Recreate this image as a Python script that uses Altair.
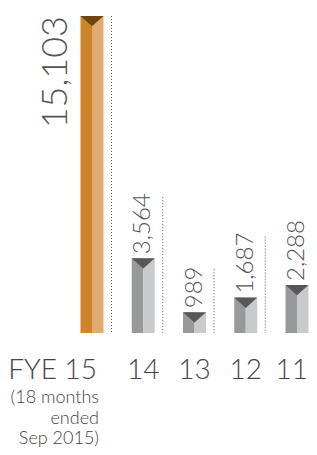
import altair as alt
import pandas as pd

# ---- data ----
years = ["FYE 15", "14", "13", "12", "11"]
values = [15103, 3564, 989, 1687, 2288]
value_labels = ["15,103", "3,564", "989", "1,687", "2,288"]
note_lines = ["(18 months", "ended", "Sep 2015)"]

# ---- layout constants ----
W, H = 301, 325          # plot area (whole chart width, bars' baseline at H)
PAD_BOTTOM = 114
Y_MAX = 15484
PX = Y_MAX / H           # data units per pixel

STEP, BAR_W, FIRST_CENTER = 51.25, 23.0, 84.0
N = len(years)
p_in = 1 - BAR_W / STEP
p_out = (W / STEP - (N - p_in)) / 2
align = (FIRST_CENTER - BAR_W / 2) / (W - STEP * (N - p_in))

df = pd.DataFrame({
    "year": years,
    "value": values,
    "label": value_labels,
    "idx": list(range(N)),
})
df["note"] = ["\n".join(note_lines)] + [""] * (N - 1)

FONT = "Lato"
hl = "datum.idx == 0"

x = alt.X("year:N", sort=years, axis=None,
          scale=alt.Scale(paddingInner=p_in, paddingOuter=p_out, align=align))
yscale = alt.Scale(domain=[0, Y_MAX], nice=False)
y = alt.Y("value:Q", axis=None, scale=yscale)

base = alt.Chart(df).encode(x=x)

left = base.mark_bar(width=BAR_W / 2, xOffset=-BAR_W / 4).encode(
    y=y, y2=alt.datum(0),
    color=alt.condition(hl, alt.value("#CE8528"), alt.value("#98999B")),
)
right = base.mark_bar(width=BAR_W / 2, xOffset=BAR_W / 4).encode(
    y=y, y2=alt.datum(0),
    color=alt.condition(hl, alt.value("#E0AB6E"), alt.value("#C9CACB")),
)
tri = base.mark_point(shape="M-1,0L1,0L0,0.9Z", size=BAR_W ** 2, filled=True,
                      opacity=1, strokeWidth=0).encode(
    y=y,
    color=alt.condition(hl, alt.value("#6B4512"), alt.value("#575759")),
)

rules = base.transform_calculate(
    top=f"datum.idx == 0 ? datum.value : datum.value + (16 + 9 * length(datum.label)) * {PX}"
).mark_rule(xOffset=BAR_W / 2 + 8, strokeDash=[1, 2], color="#555555", strokeWidth=1).encode(
    y=alt.Y("top:Q", axis=None, scale=yscale),
    y2=alt.datum(0),
)

small_labels = base.transform_filter("datum.idx > 0").mark_text(
    angle=270, align="left", baseline="middle", dx=4,
    font=FONT, fontSize=24, fontWeight=300, color="#555555",
).encode(y=y, text="label:N")

big_label = base.transform_filter("datum.idx == 0").mark_text(
    angle=270, align="right", baseline="middle", dy=-36,
    font=FONT, fontSize=36, fontWeight=300, color="#555555",
).encode(y=y, text="label:N")

yr_style = dict(baseline="alphabetic", dy=46, font=FONT, fontSize=28,
                fontWeight=300, color="#444444")

yr_first = base.transform_filter("datum.idx == 0").mark_text(
    align="right", dx=5, **yr_style
).encode(y=alt.datum(0), text="year:N")

yr_mid = base.transform_filter(f"datum.idx > 0 && datum.idx < {N - 1}").mark_text(
    align="center", **yr_style
).encode(y=alt.datum(0), text="year:N")

yr_last = base.transform_filter(f"datum.idx == {N - 1}").mark_text(
    align="right", dx=11, **yr_style
).encode(y=alt.datum(0), text="year:N")

note = base.transform_filter("datum.idx == 0").mark_text(
    align="right", baseline="alphabetic", dx=7, dy=70, lineBreak="\n", lineHeight=20.5,
    font=FONT, fontSize=18, fontWeight=300, color="#444444",
).encode(y=alt.datum(0), text="note:N")

chart = alt.layer(
    rules, left, right, tri, small_labels, big_label, yr_first, yr_mid, yr_last, note
).properties(
    width=W, height=H,
    autosize=alt.AutoSizeParams(type="none"),
    padding={"left": 0, "top": 0, "right": 0, "bottom": PAD_BOTTOM},
).configure_view(stroke=None)

chart.save("out.html", embed_options={"renderer": "svg", "actions": False})
